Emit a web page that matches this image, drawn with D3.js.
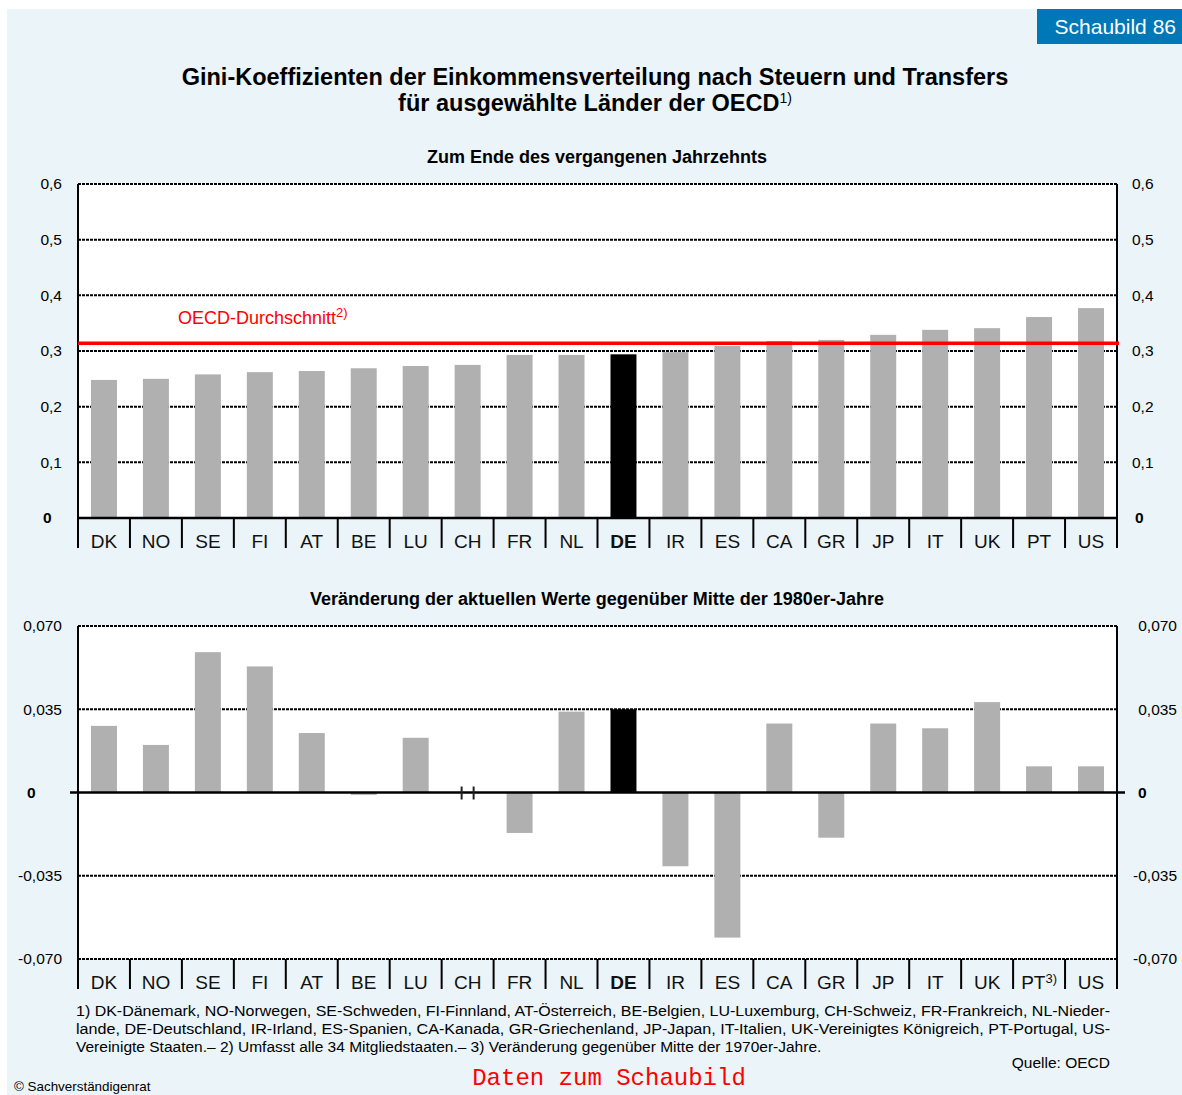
<!DOCTYPE html>
<html lang="de">
<head>
<meta charset="utf-8">
<title>Schaubild 86: Gini-Koeffizienten</title>
<script src="https://cdn.jsdelivr.net/npm/d3@7"></script>
<style>
  body { margin: 0; background: #fff; }
  svg { display: block; font-family: "Liberation Sans", Arial, sans-serif; }
  .grid { stroke: #000; stroke-width: 2; stroke-dasharray: 3, 1; }
  .frame { stroke: #000; stroke-width: 2; fill: none; }
  .axis text { font-size: 15.5px; fill: #000; }
  .cat text { font-size: 19px; fill: #111; }
  .foot { font-size: 15.5px; fill: #000; }
</style>
</head>
<body>
<script>
// Data
var countries = ["DK","NO","SE","FI","AT","BE","LU","CH","FR","NL","DE","IR","ES","CA","GR","JP","IT","UK","PT","US"];
var giniLatest = [0.248,0.250,0.258,0.262,0.264,0.269,0.273,0.275,0.293,0.293,0.294,0.298,0.309,0.318,0.320,0.329,0.338,0.341,0.361,0.377];
var giniChange = [0.028,0.020,0.059,0.053,0.025,-0.001,0.023,null,-0.017,0.034,0.035,-0.031,-0.061,0.029,-0.019,0.029,0.027,0.038,0.011,0.011];
var oecdAverage = 0.314;
var topTicks = [0, 0.1, 0.2, 0.3, 0.4, 0.5, 0.6];
var bottomTicks = [-0.070, -0.035, 0, 0.035, 0.070];
var footLines = [
  "1) DK-Dänemark, NO-Norwegen, SE-Schweden, FI-Finnland, AT-Österreich, BE-Belgien, LU-Luxemburg, CH-Schweiz, FR-Frankreich, NL-Nieder-",
  "lande, DE-Deutschland, IR-Irland, ES-Spanien, CA-Kanada, GR-Griechenland, JP-Japan, IT-Italien, UK-Vereinigtes Königreich, PT-Portugal, US-",
  "Vereinigte Staaten.– 2) Umfasst alle 34 Mitgliedstaaten.– 3) Veränderung gegenüber Mitte der 1970er-Jahre."
];

var w = 1182, h = 1095;
var left = 78, right = 1117;

var de = d3.formatLocale({decimal: ",", thousands: ".", grouping: [3], currency: ["", "€"], minus: "-"});
var fmt1 = function(d) { return d === 0 ? "0" : de.format(".1f")(d); };
var fmt3 = function(d) { return d === 0 ? "0" : de.format(".3f")(d); };

var svg = d3.select("body").append("svg")
  .attr("width", w).attr("height", h);

// background + badge
svg.append("rect").attr("x", 7).attr("y", 9).attr("width", w - 7).attr("height", h - 9).attr("fill", "#ebf4f8");
svg.append("rect").attr("x", 1037).attr("y", 9).attr("width", 145).attr("height", 35).attr("fill", "#0077b6");
svg.append("text").attr("x", 1176).attr("y", 34).attr("text-anchor", "end")
  .attr("fill", "#fff").style("font-size", "21px").text("Schaubild 86");

// titles
svg.append("text").attr("x", 595).attr("y", 85).attr("text-anchor", "middle")
  .style("font-size", "23.5px").style("font-weight", "bold")
  .text("Gini-Koeffizienten der Einkommensverteilung nach Steuern und Transfers");
var t2 = svg.append("text").attr("x", 595).attr("y", 111).attr("text-anchor", "middle")
  .style("font-size", "23.5px").style("font-weight", "bold");
t2.append("tspan").text("für ausgewählte Länder der OECD");
t2.append("tspan").attr("dy", -8).style("font-size", "14px").style("font-weight", "normal").text("1)");

var x = d3.scaleBand().domain(countries).range([left, right]).paddingInner(0.5).paddingOuter(0.25);

function drawPanel(cfg) {
  var y = d3.scaleLinear().domain(cfg.domain).range([cfg.bottom, cfg.top]);
  var g = svg.append("g");

  svg.append("text").attr("x", 597).attr("y", cfg.top - 21).attr("text-anchor", "middle")
    .style("font-size", "18px").style("font-weight", "bold").text(cfg.title);

  g.append("rect").attr("x", left).attr("y", cfg.top)
    .attr("width", right - left).attr("height", cfg.bottom - cfg.top).attr("fill", "#fff");

  // dotted grid lines
  g.selectAll(".grid").data(cfg.ticks.filter(function(d) { return d !== 0; }))
    .enter().append("line").attr("class", "grid")
    .attr("x1", left).attr("x2", right)
    .attr("y1", function(d) { return y(d); }).attr("y2", function(d) { return y(d); });

  // bars
  var data = countries.map(function(c, i) { return {c: c, v: cfg.values[i]}; })
    .filter(function(d) { return d.v !== null; });
  g.selectAll(".bar").data(data).enter().append("rect")
    .attr("x", function(d) { return x(d.c); })
    .attr("width", x.bandwidth())
    .attr("y", function(d) { return y(Math.max(0, d.v)); })
    .attr("height", function(d) { return Math.abs(y(d.v) - y(0)); })
    .attr("fill", function(d) { return d.c === "DE" ? "#000" : "#b0b0b0"; });

  // frame sides and zero line
  g.append("line").attr("class", "frame").attr("x1", left).attr("x2", left).attr("y1", cfg.top).attr("y2", cfg.bottom);
  g.append("line").attr("class", "frame").attr("x1", right).attr("x2", right).attr("y1", cfg.top).attr("y2", cfg.bottom);
  g.append("line").attr("stroke", "#000").attr("stroke-width", 2.5)
    .attr("x1", left - cfg.zeroExt).attr("x2", right + cfg.zeroExt)
    .attr("y1", y(0)).attr("y2", y(0));

  // value axes
  var la = g.append("g").attr("class", "axis").attr("transform", "translate(" + left + ",0)")
    .call(d3.axisLeft(y).tickValues(cfg.ticks).tickSize(0).tickPadding(16).tickFormat(cfg.fmt));
  var ra = g.append("g").attr("class", "axis").attr("transform", "translate(" + right + ",0)")
    .call(d3.axisRight(y).tickValues(cfg.ticks).tickSize(0).tickPadding(15).tickFormat(cfg.fmt));
  la.select(".domain").remove();
  ra.select(".domain").remove();
  if (cfg.rightEnd) {
    ra.selectAll("text").attr("text-anchor", "end").attr("x", cfg.rightEnd - right);
  }
  la.selectAll("text").filter(function(d) { return d === 0; })
    .style("font-weight", "bold").attr("text-anchor", "start").attr("x", cfg.zeroLeft - left);
  ra.selectAll("text").filter(function(d) { return d === 0; })
    .style("font-weight", "bold").attr("text-anchor", "start").attr("x", cfg.zeroRight - right);

  // category axis
  var ca = g.append("g").attr("class", "cat").attr("transform", "translate(0," + cfg.bottom + ")")
    .call(d3.axisBottom(x).tickSize(0).tickPadding(17));
  ca.select(".domain").remove();
  ca.selectAll("text").style("font-weight", function(d) { return d === "DE" ? "bold" : "normal"; });
  var step = x.step();
  var bounds = d3.range(countries.length + 1).map(function(i) { return left + i * step; });
  g.selectAll(".sep").data(bounds).enter().append("line")
    .attr("stroke", "#000").attr("stroke-width", 2)
    .attr("x1", function(d) { return d; }).attr("x2", function(d) { return d; })
    .attr("y1", cfg.bottom).attr("y2", cfg.bottom + 30);
  return {g: g, y: y, ca: ca};
}

// top panel
var top1 = drawPanel({
  title: "Zum Ende des vergangenen Jahrzehnts",
  domain: [0, 0.6], top: 184, bottom: 518, ticks: topTicks, values: giniLatest, fmt: fmt1,
  zeroExt: 0, zeroLeft: 43, zeroRight: 1135
});
top1.g.append("line").attr("stroke", "#ff0000").attr("stroke-width", 3.5)
  .attr("x1", left).attr("x2", right + 2)
  .attr("y1", top1.y(oecdAverage)).attr("y2", top1.y(oecdAverage));
var ol = top1.g.append("text").attr("x", 178).attr("y", 324).attr("fill", "#ff0000").style("font-size", "18px");
ol.append("tspan").text("OECD-Durchschnitt");
ol.append("tspan").attr("dy", -7).style("font-size", "13px").text("2)");
// dotted top edge
top1.g.append("line").attr("class", "grid").attr("x1", left).attr("x2", right).attr("y1", 184).attr("y2", 184);

// bottom panel
var bot = drawPanel({
  title: "Veränderung der aktuellen Werte gegenüber Mitte der 1980er-Jahre",
  domain: [-0.070, 0.070], top: 626, bottom: 959, ticks: bottomTicks, values: giniChange, fmt: fmt3,
  zeroExt: 8, zeroLeft: 27, zeroRight: 1138, rightEnd: 1177
});
// no value for CH
var chx = x("CH") + x.bandwidth() / 2;
[-6, 6].forEach(function(o) {
  bot.g.append("line").attr("stroke", "#222").attr("stroke-width", 2)
    .attr("x1", chx + o).attr("x2", chx + o)
    .attr("y1", bot.y(0) - 6).attr("y2", bot.y(0) + 7);
});
bot.ca.selectAll(".tick text").filter(function(d) { return d === "PT"; })
  .append("tspan").attr("dy", "-0.5em").style("font-size", "13px").text("3)");

// footnotes
footLines.forEach(function(s, i) {
  var t = svg.append("text").attr("class", "foot").attr("x", 76).attr("y", 1016 + i * 18).text(s);
  if (i < 2) t.attr("textLength", 1034).attr("lengthAdjust", "spacingAndGlyphs");
});
svg.append("text").attr("class", "foot").attr("x", 1110).attr("y", 1068).attr("text-anchor", "end").text("Quelle: OECD");
svg.append("text").attr("x", 14).attr("y", 1091).style("font-size", "13.4px").text("© Sachverständigenrat");
svg.append("text").attr("x", 609).attr("y", 1085).attr("text-anchor", "middle")
  .attr("fill", "#ff0000").style("font-family", "'Liberation Mono', 'Courier New', monospace")
  .style("font-size", "24px").text("Daten zum Schaubild");
</script>
</body>
</html>
